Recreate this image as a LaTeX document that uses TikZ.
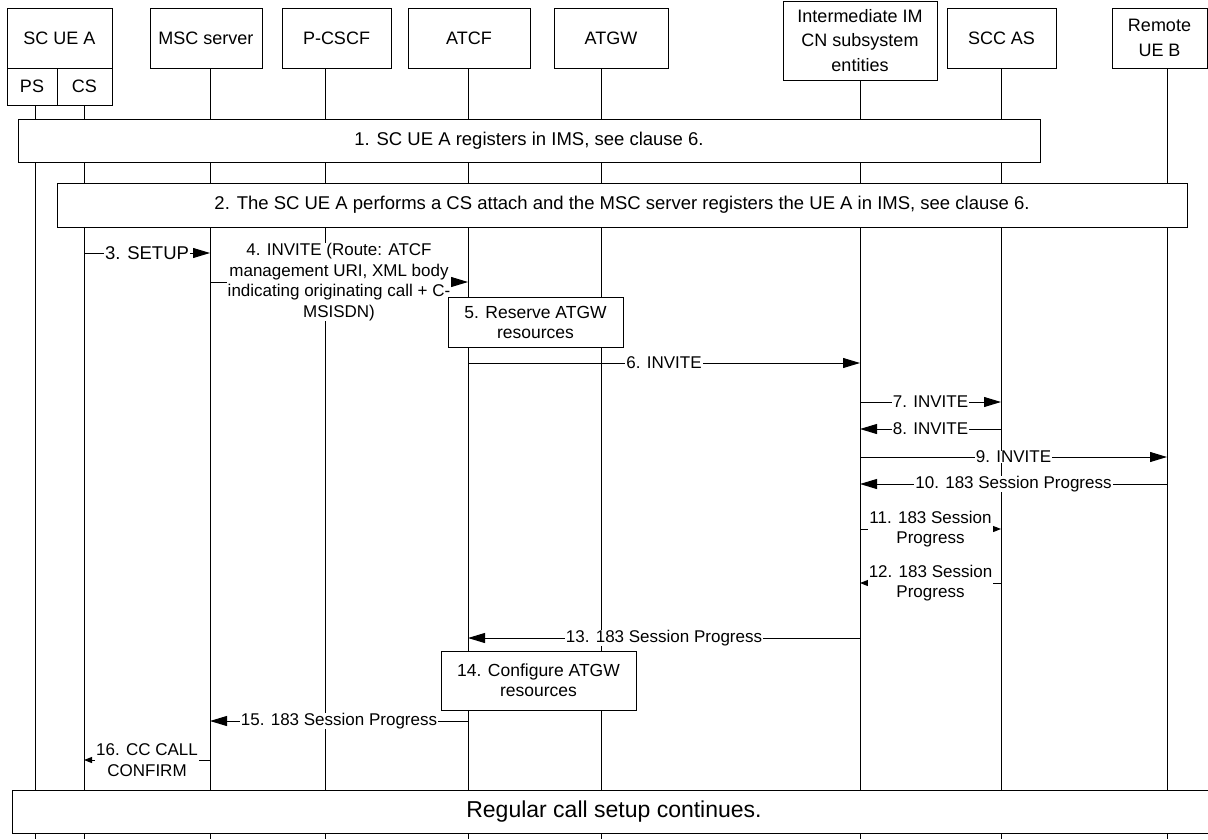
\documentclass[tikz,border=0pt]{standalone}
\usepackage{fontspec}
\setmainfont{Liberation Sans}
\usetikzlibrary{arrows.meta}
\tikzset{
  entity/.style={draw, fill=white, align=center, inner sep=0pt, font=\fontsize{18}{24.5}\selectfont},
  stepbox/.style={draw, fill=white, align=center, inner sep=0pt, font=\fontsize{18.5}{21}\selectfont},
  actbox/.style={draw, fill=white, align=center, inner sep=0pt, font=\fontsize{17.5}{20}\selectfont},
  msg/.style={-{Triangle[length=17pt,width=10pt]}},
  smallmsg/.style={-{Triangle[length=8pt,width=6pt]}},
  lbl/.style={fill=white, inner xsep=1pt, inner ysep=0pt, align=center, font=\fontsize{17}{20.5}\selectfont},
}
\begin{document}
\begin{tikzpicture}[x=1pt, y=-1pt, line width=1pt]

        \useasboundingbox (0,0) rectangle (1208,839);

        \foreach \n/\x/\y in {PS/35/105, CS/84/105, MSC/210/68, PCSCF/325/68, ATCF/468/68,
                ATGW/601/68, IMCN/860/80, SCC/1001/68, UEB/1167/68} {
                \coordinate (l\n) at (\x,\y);
                \draw (l\n) -- (\x,839);
        }

        \begin{scope}[]
        \node[entity, minimum width=105pt, minimum height=60pt] (ueA) at (59.5,38) {SC UE A};
        \node[entity, minimum width=50pt, minimum height=37pt] (ps) at (32,86.5) {PS};
        \node[entity, minimum width=55pt, minimum height=37pt] (cs) at (84.5,86.5) {CS};
        \node[entity, minimum width=112pt, minimum height=60pt] (msc) at (206,38) {MSC server};
        \node[entity, minimum width=109pt, minimum height=60pt] (pcscf) at (336.5,38) {P-CSCF};
        \node[entity, minimum width=122pt, minimum height=60pt] (atcf) at (469,38) {ATCF};
        \node[entity, minimum width=114pt, minimum height=60pt] (atgw) at (611,38) {ATGW};
        \node[entity, minimum width=154pt, minimum height=79pt] (imcn) at (860,40.5) {Intermediate IM\\CN subsystem\\entities};
        \node[entity, minimum width=109pt, minimum height=60pt] (scc) at (1001.5,38) {SCC AS};
        \node[entity, minimum width=95pt, minimum height=60pt] (ueB) at (1159.5,38) {Remote\\UE B};
        \end{scope}

        \node[stepbox, minimum width=1022pt, minimum height=43pt] (reg) at (529,140.5) {1. SC UE A registers in IMS, see clause 6.};
        \node[stepbox, minimum width=1130pt, minimum height=44pt] (attach) at (622,205) {2. The SC UE A performs a CS attach and the MSC server registers the UE A in IMS, see clause 6.};

        \draw[msg] (lCS |- 0,253) -- node[lbl, font=\fontsize{18.5}{21}\selectfont] {3. SETUP} (lMSC |- 0,253);
        \draw[msg] (lMSC |- 0,282) -- node[lbl] {4. INVITE (Route: ATCF\\management URI, XML body\\indicating originating call + C-\\MSISDN)} (lATCF |- 0,282);

        \node[actbox, minimum width=175pt, minimum height=50pt] (reserve) at (535.5,322) {5. Reserve ATGW\\resources};

        \draw[msg] (lATCF |- 0,363) -- node[lbl] {6. INVITE} (lIMCN |- 0,363);
        \draw[msg] (lIMCN |- 0,402) -- node[lbl] {7. INVITE} (lSCC |- 0,402);
        \draw[msg] (lSCC |- 0,429) -- node[lbl] {8. INVITE} (lIMCN |- 0,429);
        \draw[msg] (lIMCN |- 0,457) -- node[lbl] {9. INVITE} (lUEB |- 0,457);
        \draw[msg] (lUEB |- 0,484) -- node[lbl] {10. 183 Session Progress} (lIMCN |- 0,484);
        \draw[smallmsg] (lIMCN |- 0,529) -- node[lbl] {11. 183 Session\\Progress} (lSCC |- 0,529);
        \draw[smallmsg] (lSCC |- 0,583) -- node[lbl] {12. 183 Session\\Progress} (lIMCN |- 0,583);
        \draw[msg] (lIMCN |- 0,638) -- node[lbl] {13. 183 Session Progress} (lATCF |- 0,638);

        \node[actbox, minimum width=195pt, minimum height=59pt] (configure) at (538.5,680.5) {14. Configure ATGW\\resources};

        \draw[msg] (lATCF |- 0,721) -- node[lbl] {15. 183 Session Progress} (lMSC |- 0,721);
        \draw[smallmsg] (lMSC |- 0,760) -- node[lbl] {16. CC CALL\\CONFIRM} (lCS |- 0,760);

        \node[stepbox, minimum width=1204pt, minimum height=43pt, font=\fontsize{23}{26}\selectfont] (cont) at (614,811.5) {Regular call setup continues.};
        \end{tikzpicture}
\end{document}
